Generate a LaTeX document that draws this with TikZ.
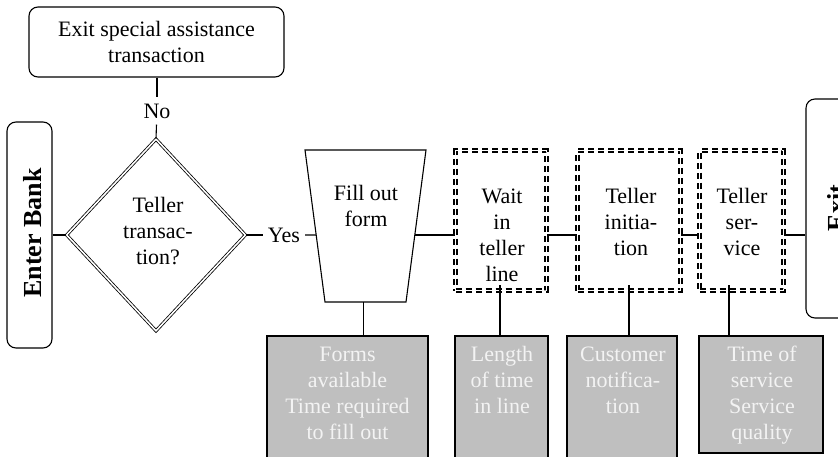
\documentclass[tikz,border=0pt]{standalone}
\usepackage{fontspec}
\setmainfont{Liberation Serif}
\usetikzlibrary{shapes.geometric,calc}
\definecolor{boxgray}{RGB}{191,191,191}
\definecolor{boxtext}{RGB}{243,243,243}

\begin{document}
\begin{tikzpicture}[x=1pt,y=-1pt,
  every node/.style={font=\fontsize{22}{26}\selectfont, inner sep=0pt, align=center},
  conn/.style={line width=1.1pt},
  term/.style={draw, line width=1.1pt, rounded corners=9pt},
  termtext/.style={rotate=90, font=\fontsize{26}{30}\selectfont\bfseries},
  dbox/.style={draw, double, double distance=1.8pt, line width=1.25pt,
    dash pattern=on 6pt off 4pt, minimum height=140pt},
  gbox/.style={draw, line width=1.1pt, fill=boxgray},
  gtext/.style={text=boxtext, anchor=north},
  btext/.style={anchor=north},
  answer/.style={inner xsep=5pt, inner ysep=6pt}
]
\clip (0,0) rectangle (838,456);

% terminals
\node[term, minimum width=255pt, minimum height=70pt] (special) at (156.5,42)
  {Exit special assistance\\transaction};
\node[term, minimum width=45pt, minimum height=226pt] (enter) at (29.5,235) {};
\node[termtext] (entertxt) at (32.5,233) {Enter Bank};
\node[term, minimum width=50pt, minimum height=219pt] (exitb) at (831,208.5) {};
\node[termtext] (exittxt) at (836.5,208) {Exit};

% decision
\node[diamond, draw, double, double distance=1.6pt, line width=0.8pt,
  minimum width=179pt, minimum height=192pt] (dec) at (156,235) {};
\node[btext] (dectxt) at (158,193.8) {\strut Teller\\transac-\\tion?};
\node[answer] (no) at (157,111) {No};
\node[answer] (yes) at (284,235) {Yes};

% form step
\coordinate (fTL) at (305,150);
\coordinate (fTR) at (426,150);
\coordinate (fBR) at (406,302);
\coordinate (fBL) at (325,302);
\draw[conn] (fTL) -- (fTR) -- (fBR) -- (fBL) -- cycle;
\coordinate (fL) at ($(fTL)!0.559!(fBL)$);
\coordinate (fR) at ($(fTR)!0.559!(fBR)$);
\coordinate (fB) at ($(fBL)!0.47!(fBR)$);
\node[btext] (formtxt) at (366,181.8) {\strut Fill out\\form};

% dashed steps
\node[dbox, minimum width=91pt] (wait) at (501,220.5) {};
\node[dbox, minimum width=103pt] (init) at (629,220.5) {};
\node[dbox, minimum width=84pt] (serv) at (741.5,220.5) {};
\node[btext] (waittxt) at (502,184.8) {\strut Wait\\in\\teller\\line};
\node[btext] (inittxt) at (631,184.8) {\strut Teller\\initia-\\tion};
\node[btext] (servtxt) at (742,184.8) {\strut Teller\\ser-\\vice};

% measures
\node[gbox, minimum width=161pt, minimum height=134pt] (g1) at (347.5,403) {};
\node[gbox, minimum width=93pt, minimum height=134pt] (g2) at (501.5,403) {};
\node[gbox, minimum width=110pt, minimum height=134pt] (g3) at (622,403) {};
\node[gbox, minimum width=124pt, minimum height=117pt] (g4) at (761,394.5) {};
\node[gtext] (g1txt) at (347.5,342.8) {\strut Forms\\available\\Time required\\to fill out};
\node[gtext] (g2txt) at (502,342.8) {\strut Length\\of time\\in line};
\node[gtext] (g3txt) at (623,342.8) {\strut Customer\\notifica-\\tion};
\node[gtext] (g4txt) at (762,342.8) {\strut Time of\\service\\Service\\quality};

% connectors
\draw[conn] (special.south -| no) -- (no);
\draw[conn] (no) -- (dec.north);
\draw[conn] (enter.east |- dec.west) -- (dec.west);
\draw[conn] (dec.east) -- (yes);
\draw[conn] (yes) -- (fL);
\draw[conn] (fR) -- (fR -| wait.west);
\draw[conn] (wait.east |- fR) -- (init.west |- fR);
\draw[conn] (init.east |- fR) -- (serv.west |- fR);
\draw[conn] (serv.east |- fR) -- (exitb.west |- fR);

\coordinate (wS) at ($(wait.south)+(-1,-6)$);
\coordinate (iS) at ($(init.south)+(0,-6)$);
\coordinate (sS) at ($(serv.south)+(-12.5,-6)$);
\draw[conn] (fB) -- (fB |- g1.north);
\draw[conn] (wS) -- (wS |- g2.north);
\draw[conn] (iS) -- (iS |- g3.north);
\draw[conn] (sS) -- (sS |- g4.north);
\end{tikzpicture}
\end{document}
